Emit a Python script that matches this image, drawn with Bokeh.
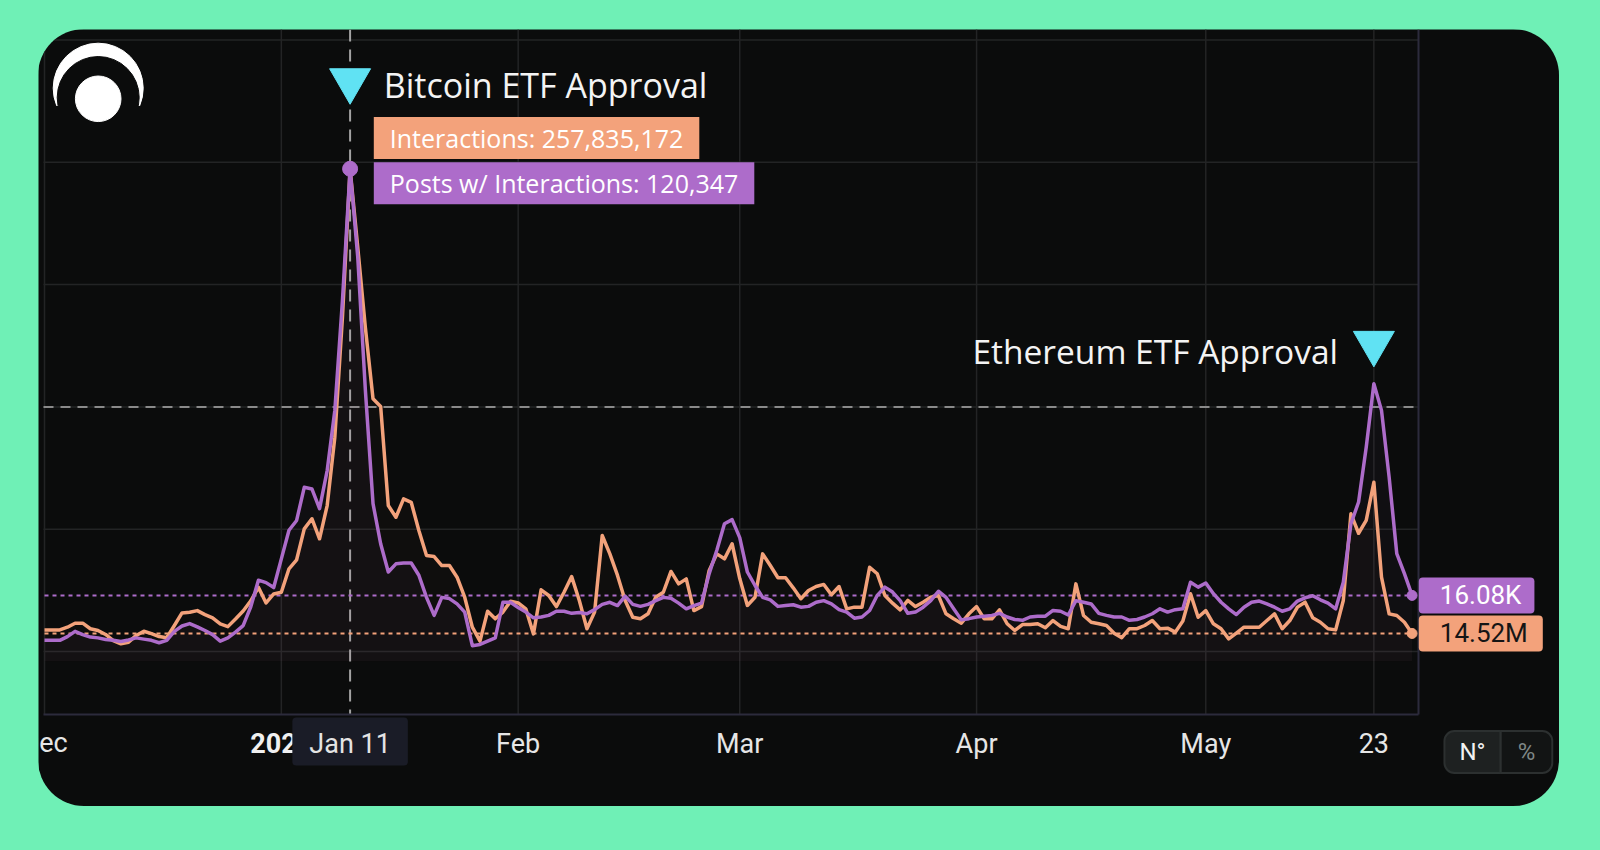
import pandas as pd
from bokeh.plotting import figure
from bokeh.models import Range1d, FixedTicker, Label
from bokeh.embed import file_html
from bokeh.resources import INLINE

# ---------------- data ----------------
start_date = "2023-12-01"

# Posts with interactions, thousands per day (Dec 1 2023 .. May 28 2024)
posts_k = [
    5.1, 5.1, 5.1, 6.0, 7.3, 6.5, 5.9, 5.7, 5.3, 5.1, 4.8, 5.2, 5.7, 5.4, 5.1, 4.5,
    5.1, 7.3, 8.6, 9.2, 8.4, 7.5, 6.5, 4.9, 5.7, 7.1, 8.7, 13.3, 19.8, 19.2, 18.0,
    25.0, 32.0, 34.4, 42.5, 42.1, 37.3, 46.6, 61.3, 88.2, 120.347, 98.8, 66.2, 38.5,
    28.7, 21.8, 23.8, 24.0, 24.0, 21.0, 15.6, 11.2, 15.6, 15.3, 14.0, 12.0, 3.8, 4.1,
    4.9, 5.7, 14.4, 14.4, 13.1,
    12.0, 10.6, 10.8, 11.2, 12.2, 12.2, 11.7, 11.9, 11.6, 12.6, 13.9, 14.4, 13.6, 15.9,
    13.9, 13.4, 13.9, 14.8, 15.6, 15.4, 14.2, 12.8, 13.6, 14.2, 21.4, 27.1, 33.6, 34.6,
    30.2, 21.8, 18.5, 15.6, 15.0, 13.4, 13.6, 13.8, 13.2, 13.4, 14.4, 14.8, 14.0, 12.6,
    12.0, 10.5, 10.8, 12.4, 16.1, 18.1, 16.9, 14.8, 11.7, 12.0, 13.2, 14.8, 17.1, 15.6,
    12.8, 10.1, 10.4, 10.8,
    11.0, 11.2, 11.7, 10.8, 10.2, 10.0, 10.8, 11.0, 11.0, 12.4, 12.2, 11.3, 14.8, 14.4,
    14.0, 11.7, 11.2, 10.8, 10.8, 10.0, 10.2, 10.8, 11.6, 12.8, 12.0, 12.6, 12.8, 19.3,
    18.1,
    19.1, 16.5, 14.4, 12.8, 11.4, 13.2, 14.4, 14.7, 14.0, 13.2, 12.2, 12.8, 14.7, 15.5,
    16.0, 15.0, 14.2, 12.8, 19.3, 33.6, 38.9, 52.3, 67.8, 61.3, 45.0, 26.3, 21.4, 16.08,
]

# Interactions, millions per day
interactions_m = [
    16.4, 16.4, 16.4, 17.8, 19.9, 19.9, 17.0, 16.1, 14.0, 10.8, 9.1, 9.9, 13.5, 15.7,
    14.4, 12.9, 12.3, 18.7, 25.3, 25.6, 26.5, 24.4, 22.7, 19.5, 18.1, 22.1, 26.3, 31.6,
    38.7, 30.5, 35.2,
    36.1, 48.4, 53.1, 69.3, 74.6, 64.1, 81.5, 117.3, 180.1, 257.835172, 216.8, 174.6,
    137.4, 133.4, 81.5, 75.4, 85.0, 83.2, 68.4, 55.3, 54.8, 50.1, 50.1, 44.0, 33.5, 17.8,
    10.5, 26.2, 22.2, 25.7, 31.4, 30.5,
    27.4, 14.3, 37.4, 34.4, 28.6, 36.1, 44.3, 31.8, 17.0, 25.7, 65.8, 56.2, 44.9, 31.8,
    23.0, 22.2, 24.8, 33.5, 36.1, 47.0, 40.5, 43.1, 26.5, 28.6, 47.5, 56.2, 53.6, 61.5,
    43.3, 29.2, 33.5, 56.2, 50.1, 43.7, 43.7, 38.4, 32.7, 37.0, 39.1, 40.2, 34.8, 39.1,
    27.4, 28.3, 28.3, 49.2, 45.8, 34.4, 30.4, 26.9, 31.8, 28.6, 30.9, 33.5, 34.4, 24.8,
    22.2, 19.9, 24.8, 28.6,
    22.2, 22.2, 26.9, 19.6, 16.1, 19.2, 19.2, 19.6, 17.5, 21.3, 18.2, 17.0, 40.5, 23.9,
    20.4, 19.6, 18.7, 14.7, 12.3, 17.0, 17.0, 18.7, 21.3, 17.0, 17.3, 15.2, 21.0, 35.3,
    23.0,
    26.5, 19.6, 17.0, 11.7, 14.7, 17.8, 17.8, 17.8, 21.3, 24.8, 17.0, 21.3, 28.3, 30.9,
    22.7, 20.4, 17.0, 16.4, 31.8, 77.2, 67.0, 73.7, 93.7, 44.0, 24.8, 23.9, 20.4, 14.52,
]

tick_dates = ["2024-02-01", "2024-03-01", "2024-04-01", "2024-05-01", "2024-05-23"]
tick_labels = ["Feb", "Mar", "Apr", "May", "23"]
edge_tick = "2023-12-01"
edge_label = "Dec"
grid_dates = ["2023-12-01", "2024-01-01", "2024-02-01", "2024-03-01", "2024-04-01",
              "2024-05-01", "2024-05-23"]
year_tick = "2024-01-01"
year_label = "2024"
hover_label = "Jan 11"
event_names = ["Bitcoin ETF Approval", "Ethereum ETF Approval"]
peak_posts = 120347
peak_interactions = 257835172
last_posts_label = "16.08K"
last_interactions_label = "14.52M"
toggle_labels = ["N°", "%"]

# ---------------- styling / layout ----------------
BG = "#0b0c0c"
GREEN = "#6ff0b6"
PURPLE = "#ad6cca"
ORANGE = "#f3a27b"
CYAN = "#60e2f3"
GRID = "#232425"
AXIS = "#2c2b3c"
TICK_TXT = "#e6e6e6"

dates = list(pd.date_range(start_date, periods=len(posts_k), freq="D"))
DAY = 86400000.0


def ms(s):
    return pd.Timestamp(s).value / 1e6


x0 = ms(start_date)
PXDAY = 7.64          # pixels per day
X_DEC1 = 44.0         # page x of the first day
PLOT_L, PLOT_R, PLOT_T, PLOT_B = 43.0, 1418.0, 29.0, 714.0
CARD_L, CARD_R, CARD_T, CARD_B = 38.0, 1559.0, 29.0, 806.0
Y_ZERO, Y_MAX = 660.7, 168.3   # page y of value 0 and of the series maximum
TICK_Y = 742.5                 # page y of the tick-label centres


def x_at(px):
    return x0 + (px - X_DEC1) / PXDAY * DAY


def frac_at(py):
    return (Y_ZERO - py) / (Y_ZERO - Y_MAX)


pmax = max(posts_k)
imax = max(interactions_m)
LO, HI = frac_at(CARD_B), frac_at(CARD_T)
i_btc = max(range(100), key=lambda i: posts_k[i])
i_eth = 100 + max(range(len(posts_k) - 100), key=lambda i: posts_k[100 + i])

W, H = int(CARD_R - CARD_L), int(CARD_B - CARD_T)
p = figure(width=W, height=H, x_axis_type="datetime", y_axis_location=None,
           x_range=Range1d(x_at(CARD_L), x_at(CARD_R)),
           y_range=Range1d(pmax * LO, pmax * HI),
           output_backend="svg", toolbar_location=None, min_border=0,
           background_fill_color=BG, border_fill_color=BG, outline_line_color=None)
p.styles = {"position": "relative", "left": "%dpx" % CARD_L, "top": "%dpx" % CARD_T,
            "border-radius": "46px", "overflow": "hidden"}

p.extra_y_ranges = {"int": Range1d(imax * LO, imax * HI), "px": Range1d(CARD_B, CARD_T)}
p.extra_x_ranges = {"px": Range1d(CARD_L, CARD_R)}
p.xgrid.visible = False
p.ygrid.visible = False

# ---- grid lines (limited to the plot area) ----
gx = [ms(d) for d in grid_dates]
p.segment(x0=gx, x1=gx, y0=[PLOT_T] * len(gx), y1=[PLOT_B] * len(gx), y_range_name="px",
          line_color=GRID, line_width=1.5)
grid_fracs = [0.0197 + 0.2484 * k for k in range(6)]
gy = [pmax * f for f in grid_fracs]
p.segment(x0=[PLOT_L] * len(gy), x1=[PLOT_R] * len(gy), y0=gy, y1=gy, x_range_name="px",
          line_color=GRID, line_width=1.5)
p.segment(x0=[PLOT_L], x1=[PLOT_R], y0=[gy[2]], y1=[gy[2]], x_range_name="px",
          line_color="#8a8a8a", line_width=2, line_dash="10 7")
p.segment(x0=[dates[i_btc]], x1=[dates[i_btc]], y0=[PLOT_T], y1=[PLOT_B], y_range_name="px",
          line_color="#a3a3a3", line_width=2, line_dash="12 8")
p.segment(x0=[PLOT_R], x1=[PLOT_R], y0=[PLOT_T], y1=[PLOT_B], x_range_name="px",
          y_range_name="px", line_color=AXIS, line_width=2)

# ---- x axis, drawn at the bottom of the plot area ----
ax = p.xaxis[0]
ax.fixed_location = pmax * frac_at(PLOT_B)
ax.bounds = (x_at(PLOT_L), x_at(PLOT_R))
ax.ticker = FixedTicker(ticks=[ms(d) for d in tick_dates])
ax.major_label_overrides = {ms(d): t for d, t in zip(tick_dates, tick_labels)}
ax.major_tick_line_color = None
ax.minor_tick_line_color = None
ax.axis_line_color = AXIS
ax.axis_line_width = 2
ax.major_label_text_font = "Roboto"
ax.major_label_text_font_size = "27px"
ax.major_label_text_color = TICK_TXT
ax.major_label_standoff = 7

# ---- areas ----
p.varea(x=dates, y1=0, y2=interactions_m, y_range_name="int", fill_color=ORANGE, fill_alpha=0.02)
p.varea(x=dates, y1=0, y2=posts_k, fill_color=PURPLE, fill_alpha=0.035)

# ---- last-value dotted guides ----
p.segment(x0=[dates[0]], y0=[posts_k[-1]], x1=[dates[-1]], y1=[posts_k[-1]],
          line_color=PURPLE, line_width=2, line_dash="4 4")
p.segment(x0=[dates[0]], y0=[interactions_m[-1]], x1=[dates[-1]], y1=[interactions_m[-1]],
          y_range_name="int", line_color=ORANGE, line_width=2, line_dash="4 4")

# ---- lines ----
p.line(dates, interactions_m, y_range_name="int", line_color=ORANGE, line_width=3.5,
       line_join="round")
p.line(dates, posts_k, line_color=PURPLE, line_width=3.5, line_join="round")

# ---- dots ----
p.scatter([dates[-1]], [interactions_m[-1]], y_range_name="int", size=10, color=ORANGE)
p.scatter([dates[-1]], [posts_k[-1]], size=10, color=PURPLE)
p.scatter([dates[i_btc]], [posts_k[i_btc]], size=15, color=PURPLE)

# ---- event markers ----
p.scatter([dates[i_btc], dates[i_eth]], [80.1, 342.7], y_range_name="px",
          marker="inverted_triangle", size=41, color=CYAN)

# ---- logo ----
p.circle([97.7], [87.7], radius=45, x_range_name="px", y_range_name="px", color="white")
p.circle([97.7], [97.0], radius=41, x_range_name="px", y_range_name="px", color=BG)
p.quad(left=[48], right=[148], top=[106], bottom=[146], x_range_name="px",
       y_range_name="px", color=BG)
p.circle([97.7], [98.3], radius=22.8, x_range_name="px", y_range_name="px", color="white")


def lab(x, y, text, xr="default", yr="default", **kw):
    p.add_layout(Label(x=x, y=y, text=text, x_range_name=xr, y_range_name=yr, **kw))


# ---- event texts ----
lab(383.3, 84.5, event_names[0], "px", "px", text_font="Open Sans", text_font_size="34px",
    text_color="#f4f4f4", text_baseline="middle", text_align="left")
lab(1337.5, 350.0, event_names[1], "px", "px", text_font="Open Sans", text_font_size="33.5px",
    text_color="#f4f4f4", text_baseline="middle", text_align="right")
lab(373.3, 137.5, f"Interactions: {peak_interactions:,}", "px", "px",
    text_font="Open Sans", text_font_size="25px", text_color="white",
    text_baseline="middle", text_align="left", background_fill_color=ORANGE,
    padding=dict(left=16, right=16, top=4, bottom=4))
lab(373.3, 182.8, f"Posts w/ Interactions: {peak_posts:,}", "px", "px",
    text_font="Open Sans", text_font_size="25px", text_color="white",
    text_baseline="middle", text_align="left", background_fill_color=PURPLE,
    padding=dict(left=16, right=16, top=4, bottom=4))

# ---- last-value tags ----
lab(1418.3, posts_k[-1], last_posts_label, "px", "default",
    text_font="Roboto", text_font_size="26px", text_color="white",
    text_baseline="middle", text_align="left", background_fill_color=PURPLE,
    border_radius=4, padding=dict(left=21, right=13, top=3, bottom=3))
lab(1418.3, interactions_m[-1], last_interactions_label, "px", "int",
    text_font="Roboto", text_font_size="26px", text_color="#151515",
    text_baseline="middle", text_align="left", background_fill_color=ORANGE,
    border_radius=4, padding=dict(left=21, right=15, top=3, bottom=3))

# ---- edge tick (cut by the card edge), year tick and hover date ----
lab(ms(edge_tick), TICK_Y, edge_label, "default", "px",
    text_font="Roboto", text_font_size="27px", text_color=TICK_TXT,
    text_baseline="middle", text_align="center")
lab(ms(year_tick), TICK_Y, year_label, "default", "px",
    text_font="Roboto", text_font_size="27px", text_font_style="bold",
    text_color="#f0f0f0", text_baseline="middle", text_align="center")
lab(ms(dates[i_btc]), 741.0, hover_label, "default", "px",
    text_font="Roboto", text_font_size="27px", text_color="#e4e4e4",
    text_baseline="middle", text_align="center", background_fill_color="#1a1c27",
    border_radius=4, padding=dict(left=17, right=17, top=10, bottom=6))

# ---- N° / % toggle ----
lab(1472.0, 751.5, toggle_labels[0], "px", "px", text_font="Roboto", text_font_size="24px",
    text_color="#f2f2f2", text_baseline="middle", text_align="center",
    background_fill_color="#1e2121", border_line_color="#2c3030", border_line_width=2,
    border_radius=dict(top_left=10, top_right=0, bottom_right=0, bottom_left=10),
    padding=dict(left=15, right=15, top=7, bottom=7))
lab(1526.0, 751.5, toggle_labels[1], "px", "px", text_font="Roboto", text_font_size="24px",
    text_color="#7f8787", text_baseline="middle", text_align="center",
    background_fill_color="#121414", border_line_color="#2c3030", border_line_width=2,
    border_radius=dict(top_left=0, top_right=10, bottom_right=10, bottom_left=0),
    padding=dict(left=17, right=17, top=7, bottom=7))

html = file_html(p, INLINE)
html = html.replace("</head>", "<style>html,body{background:%s;}</style></head>" % GREEN, 1)
open("out.html", "w").write(html)
